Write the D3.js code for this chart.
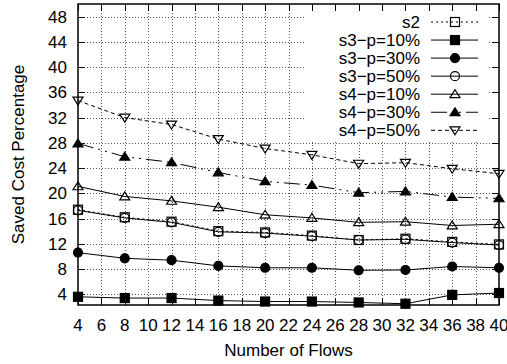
<!DOCTYPE html>
<html>
<head>
<meta charset="utf-8">
<script src="https://cdn.jsdelivr.net/npm/d3@7"></script>
<style>
  body { margin: 0; background: #fff; }
  svg { display: block; font-family: "Liberation Sans", Arial, sans-serif; }
</style>
</head>
<body>
<svg id="chart"></svg>
<script>
// values
const flows = [4, 8, 12, 16, 20, 24, 28, 32, 36, 40];
const s2    = [17.4, 16.2, 15.5, 14.0, 13.8, 13.3, 12.6, 12.8, 12.3, 11.9];
const s3p10 = [3.6, 3.4, 3.4, 3.0, 2.85, 2.85, 2.7, 2.5, 3.9, 4.2];
const s3p30 = [10.6, 9.7, 9.4, 8.5, 8.2, 8.2, 7.8, 7.85, 8.4, 8.2];
const s3p50 = [17.3, 16.1, 15.4, 13.9, 13.7, 13.2, 12.6, 12.7, 12.2, 11.8];
const s4p10 = [21.1, 19.5, 18.8, 17.8, 16.6, 16.1, 15.4, 15.5, 14.9, 15.1];
const s4p30 = [27.9, 25.8, 24.9, 23.3, 21.9, 21.3, 20.1, 20.3, 19.4, 19.2];
const s4p50 = [34.7, 32.0, 30.9, 28.6, 27.1, 26.1, 24.7, 24.85, 23.9, 23.1];

const xTicks = d3.range(4, 41, 2);
const yTicks = d3.range(4, 49, 4);

const series = [
  { name: 's2',        values: s2,    marker: 'square',   fill: false, dash: '2,3' },
  { name: 's3\u2212p=10%', values: s3p10, marker: 'square',   fill: true,  dash: null },
  { name: 's3\u2212p=30%', values: s3p30, marker: 'circle',   fill: true,  dash: null },
  { name: 's3\u2212p=50%', values: s3p50, marker: 'circle',   fill: false, dash: null },
  { name: 's4\u2212p=10%', values: s4p10, marker: 'triangle', fill: false, dash: null },
  { name: 's4\u2212p=30%', values: s4p30, marker: 'triangle', fill: true,  dash: '16,5,2,5,2,5' },
  { name: 's4\u2212p=50%', values: s4p50, marker: 'tridown',  fill: false, dash: '4,3' }
];

const width = 507;
const height = 364;
const margin = { left: 78, right: 8, top: 4, bottom: 59 };
const fontSize = 17;

const svg = d3.select('#chart')
  .attr('width', width)
  .attr('height', height);

svg.append('rect').attr('width', width).attr('height', height).attr('fill', '#fff');

const x = d3.scaleLinear().domain([4, 40]).range([margin.left, width - margin.right]);
const y = d3.scaleLinear().domain([2.3, 50]).range([height - margin.bottom, margin.top]);

const x0 = x.range()[0], x1 = x.range()[1];
const y0 = y.range()[0], y1 = y.range()[1];

// grid
const grid = svg.append('g')
  .attr('stroke', '#555')
  .attr('stroke-width', 1)
  .attr('stroke-dasharray', '1,2');

grid.selectAll('.gx')
  .data(xTicks.filter(d => d > 4 && d < 40))
  .enter().append('line')
  .attr('x1', d => Math.round(x(d)) + 0.5).attr('x2', d => Math.round(x(d)) + 0.5)
  .attr('y1', y0).attr('y2', y1);

grid.selectAll('.gy')
  .data(yTicks)
  .enter().append('line')
  .attr('y1', d => Math.round(y(d)) + 0.5).attr('y2', d => Math.round(y(d)) + 0.5)
  .attr('x1', x0).attr('x2', x1);

// legend background hides the grid behind the key
const legX = 304, legW = 185, legTop = y1, legBottom = 141;
svg.append('rect')
  .attr('x', legX).attr('y', legTop)
  .attr('width', legW).attr('height', legBottom - legTop)
  .attr('fill', '#fff');

// ticks on all four sides, pointing inward
const tickLen = 7;
const ticks = svg.append('g').attr('stroke', '#000').attr('stroke-width', 1);
xTicks.forEach(d => {
  const px = Math.round(x(d)) + 0.5;
  ticks.append('line').attr('x1', px).attr('x2', px).attr('y1', y0).attr('y2', y0 - tickLen);
  ticks.append('line').attr('x1', px).attr('x2', px).attr('y1', y1).attr('y2', y1 + tickLen);
});
yTicks.forEach(d => {
  const py = Math.round(y(d)) + 0.5;
  ticks.append('line').attr('x1', x0).attr('x2', x0 + tickLen).attr('y1', py).attr('y2', py);
  ticks.append('line').attr('x1', x1).attr('x2', x1 - tickLen).attr('y1', py).attr('y2', py);
});

// border
svg.append('rect')
  .attr('x', x0).attr('y', y1)
  .attr('width', x1 - x0).attr('height', y0 - y1)
  .attr('fill', 'none').attr('stroke', '#000').attr('stroke-width', 1.5);

// tick labels
svg.append('g').selectAll('text')
  .data(xTicks)
  .enter().append('text')
  .attr('x', d => x(d)).attr('y', 331)
  .attr('text-anchor', 'middle')
  .attr('font-size', fontSize)
  .text(d => d);

svg.append('g').selectAll('text')
  .data(yTicks)
  .enter().append('text')
  .attr('x', 67).attr('y', d => y(d) + 6)
  .attr('text-anchor', 'end')
  .attr('font-size', fontSize)
  .text(d => d);

// axis titles
svg.append('text')
  .attr('x', (x0 + x1) / 2).attr('y', 356)
  .attr('text-anchor', 'middle')
  .attr('font-size', fontSize)
  .text('Number of Flows');

svg.append('text')
  .attr('transform', `translate(24, ${(y0 + y1) / 2}) rotate(-90)`)
  .attr('text-anchor', 'middle')
  .attr('font-size', fontSize)
  .text('Saved Cost Percentage');

// markers
function drawMarker(g, type, filled, cx, cy) {
  const s = 4.5;
  let el;
  if (type === 'square') {
    el = g.append('rect').attr('x', cx - s).attr('y', cy - s).attr('width', 2 * s).attr('height', 2 * s);
  } else if (type === 'circle') {
    el = g.append('circle').attr('cx', cx).attr('cy', cy).attr('r', s);
  } else if (type === 'triangle') {
    el = g.append('path').attr('d', `M${cx},${cy - s}L${cx + s + 0.5},${cy + s * 0.75}L${cx - s - 0.5},${cy + s * 0.75}Z`);
  } else {
    el = g.append('path').attr('d', `M${cx},${cy + s}L${cx + s + 0.5},${cy - s * 0.75}L${cx - s - 0.5},${cy - s * 0.75}Z`);
  }
  el.attr('fill', filled ? '#000' : 'none').attr('stroke', '#000').attr('stroke-width', 1.2);
}

const line = d3.line()
  .x((d, i) => x(flows[i]))
  .y(d => y(d));

const plot = svg.append('g');
series.forEach(s => {
  plot.append('path')
    .attr('d', line(s.values))
    .attr('fill', 'none')
    .attr('stroke', '#000')
    .attr('stroke-width', 1)
    .attr('stroke-dasharray', s.dash);
  s.values.forEach((v, i) => drawMarker(plot, s.marker, s.fill, x(flows[i]), y(v)));
});

// legend
const legend = svg.append('g');
series.forEach((s, i) => {
  const ly = 22 + i * 18.05;
  legend.append('text')
    .attr('x', 420).attr('y', ly + 6)
    .attr('text-anchor', 'end')
    .attr('font-size', fontSize)
    .text(s.name);
  legend.append('line')
    .attr('x1', 431).attr('x2', 478)
    .attr('y1', ly).attr('y2', ly)
    .attr('stroke', '#000')
    .attr('stroke-width', 1)
    .attr('stroke-dasharray', s.dash);
  drawMarker(legend, s.marker, s.fill, 455, ly);
});
</script>
</body>
</html>
